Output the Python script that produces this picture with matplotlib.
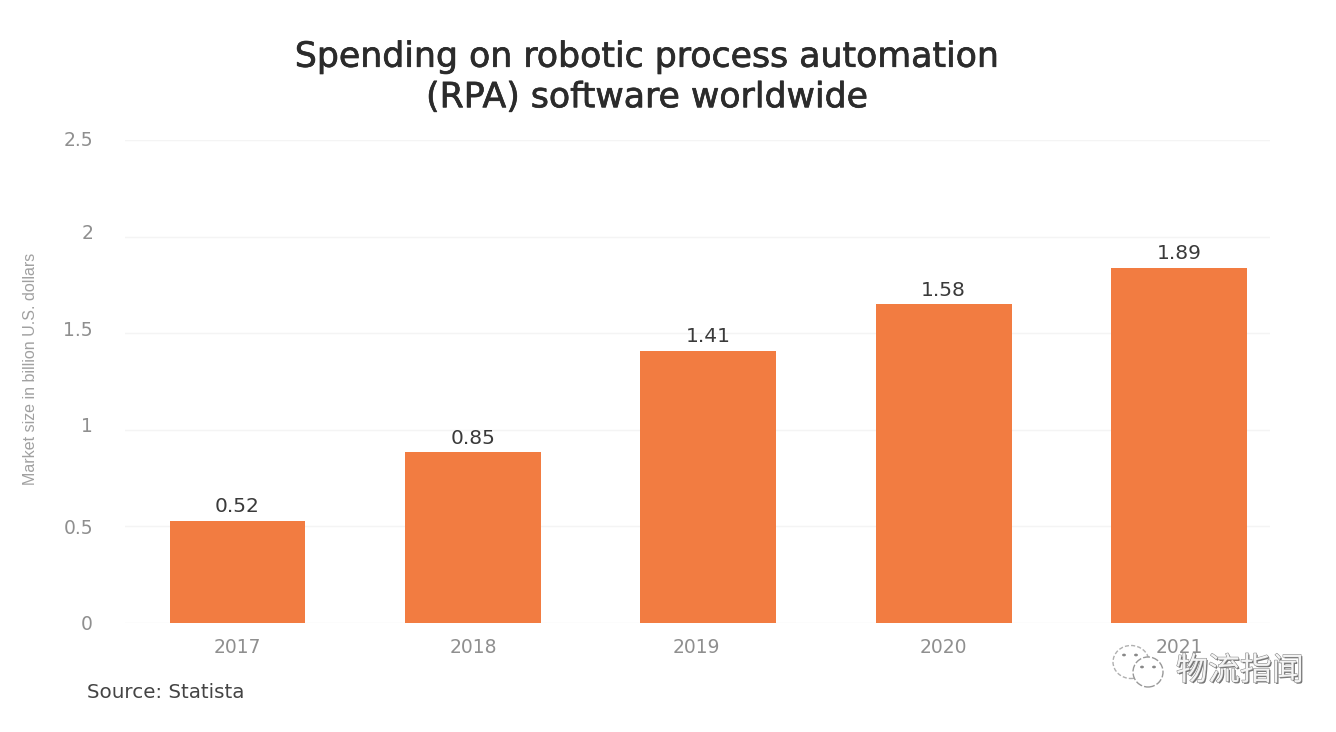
import matplotlib
matplotlib.use('Agg')
import matplotlib.pyplot as plt
import matplotlib.patheffects as pe
from matplotlib.patches import Ellipse, Circle
from matplotlib.transforms import ScaledTranslation

W, H = 1336, 732

years = ['2017', '2018', '2019', '2020', '2021']
bar_heights = [0.53, 0.885, 1.41, 1.65, 1.84]  # drawn heights don't quite match the printed labels
bar_labels = ['0.52', '0.85', '1.41', '1.58', '1.89']
year_ticks = [0, 1, 1.95, 3, 4]  # 2019 label sits left of its bar in the original
y_ticks = [0, 0.5, 1, 1.5, 2, 2.5]
y_labels = ['0', '0.5', '1', '1.5', '2', '2.5']
y_label_nudge = [0, 0, 5, 5, 5, 1]  # labels drift above their gridlines, in px

ORANGE = '#f27c41'
GREY = '#8f8f8f'
DARK = '#3a3a3a'

plt.rcParams['font.family'] = ['DejaVu Sans']

fig = plt.figure(figsize=(W / 100, H / 100), dpi=100, facecolor='white')
ax = fig.add_axes([125 / W, 1 - 623 / H, (1270 - 125) / W, (623 - 140) / H])
ax.set_xlim(-0.478, 4.386)
ax.set_ylim(0, 2.5)

ax.bar(range(len(years)), bar_heights, width=0.577, color=ORANGE, zorder=3)
for i, (h, lab) in enumerate(zip(bar_heights, bar_labels)):
    ax.annotate(lab, (i, h), xytext=(0, 3), textcoords='offset points', ha='center', va='bottom',
                fontsize=14.5, color=DARK, zorder=4)

ax.set_xticks(year_ticks, years)
ax.set_yticks(y_ticks, y_labels)
ax.tick_params(axis='x', length=0, pad=11, labelsize=13.5, labelcolor=GREY)
ax.tick_params(axis='y', length=0, pad=23, labelsize=13.5, labelcolor=GREY)
for lab, nudge in zip(ax.get_yticklabels(), y_label_nudge):
    lab.set_transform(lab.get_transform() + ScaledTranslation(0, nudge / 100, fig.dpi_scale_trans))
ax.grid(axis='y', color='#f4f4f4', lw=1, zorder=0)
ax.set_axisbelow(True)
for s in ax.spines.values():
    s.set_visible(False)

fig.text(647 / W, 1 - 77 / H, 'Spending on robotic process automation\n(RPA) software worldwide',
         ha='center', va='center', fontsize=25, color='#2b2b2b', linespacing=1.24,
         path_effects=[pe.withStroke(linewidth=0.5, foreground='#2b2b2b')])
fig.text(31 / W, 1 - 369 / H, 'Market size in billion U.S. dollars', rotation=90, ha='center', va='center',
         fontsize=11.5, color='#a0a0a0', family='Liberation Sans')
fig.text(87 / W, 1 - 692 / H, 'Source: Statista', ha='left', va='center', fontsize=14.3, color='#444444')

# watermark
fig.text(1240 / W, 1 - 671 / H, '物流指闻', ha='center', va='center', fontsize=23, color='#f4f4f4',
         family=['Noto Sans CJK SC', 'DejaVu Sans'], zorder=10,
         path_effects=[pe.withSimplePatchShadow(offset=(1, -1), shadow_rgbFace='#666666', alpha=0.9),
                       pe.withStroke(linewidth=0.8, foreground='#8a8a8a')])
sx = 1 / W
sy = 1 / H
bubble_style = dict(fill=False, edgecolor='#b0b0b0', lw=1, ls=(0, (3, 1.5)), transform=fig.transFigure)
fig.add_artist(Ellipse((1131 * sx, 1 - 662 * sy), 36 * sx, 33 * sy, **bubble_style))
fig.add_artist(Ellipse((1148 * sx, 1 - 672 * sy), 30 * sx, 30 * sy, facecolor='white', edgecolor='#999999',
                       lw=1, ls=(0, (5, 1.5)), transform=fig.transFigure))
for ex, ey in [(1124, 655), (1136, 655), (1142, 667), (1154, 667)]:
    fig.add_artist(Circle((ex * sx, 1 - ey * sy), 1.2 * sx, color='#888888', transform=fig.transFigure))

fig.savefig('out.png', dpi=100)
